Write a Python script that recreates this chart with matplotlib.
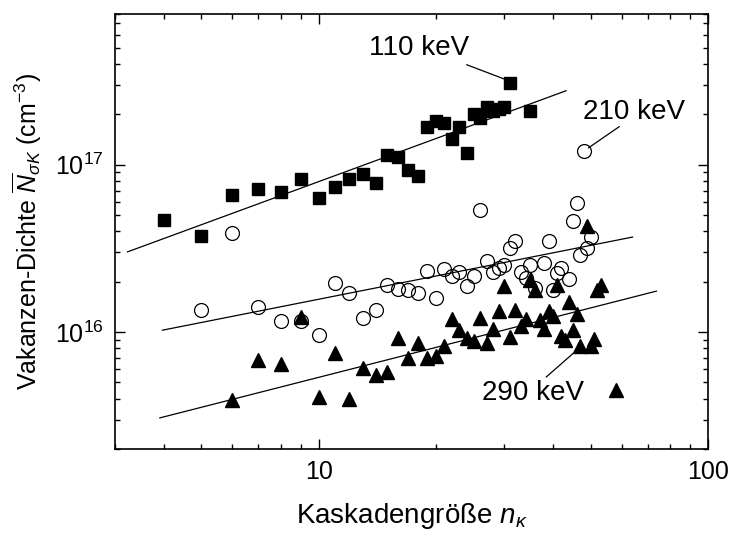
import matplotlib
matplotlib.use('Agg')
import matplotlib.pyplot as plt
import numpy as np

plt.rcParams.update({
    'font.family': 'Liberation Sans',
    'font.size': 17,
    'mathtext.fontset': 'custom',
    'mathtext.rm': 'Liberation Sans',
    'mathtext.it': 'Liberation Sans:italic',
    'mathtext.bf': 'Liberation Sans:bold',
    'xtick.direction': 'in', 'ytick.direction': 'in',
    'xtick.top': True, 'ytick.right': True,
    'xtick.major.size': 7, 'xtick.minor.size': 3.5,
    'ytick.major.size': 7, 'ytick.minor.size': 3.5,
    'xtick.major.width': 1.0, 'xtick.minor.width': 1.0,
    'ytick.major.width': 1.0, 'ytick.minor.width': 1.0,
    'axes.linewidth': 1.2,
})

# 110 keV
n_110 = [4, 5, 6, 7, 8, 9, 10, 11, 12, 13, 14, 15, 16, 17, 18, 19, 20, 21, 22,
         23, 24, 25, 26, 27, 28, 29, 30, 31, 35]
N_110 = [4.7e16, 3.77e16, 6.58e16, 7.19e16, 6.9e16, 8.2e16, 6.35e16, 7.38e16,
         8.2e16, 8.83e16, 7.8e16, 1.146e17, 1.108e17, 9.36e16, 8.54e16, 1.67e17,
         1.83e17, 1.77e17, 1.43e17, 1.69e17, 1.18e17, 2.01e17, 1.9e17, 2.22e17,
         2.1e17, 2.15e17, 2.22e17, 3.06e17, 2.08e17]

# 210 keV
n_210 = [5, 6, 7, 8, 9, 10, 11, 12, 13, 14, 15, 16, 17, 18, 19, 20, 21, 22, 23,
         24, 25, 26, 27, 28, 29, 30, 31, 32, 33, 34, 35, 36, 38, 39, 40, 41, 42,
         44, 45, 46, 47, 48, 49, 50]
N_210 = [1.35e16, 3.91e16, 1.41e16, 1.16e16, 1.16e16, 9.6e15, 1.96e16, 1.70e16,
         1.21e16, 1.36e16, 1.90e16, 1.80e16, 1.78e16, 1.72e16, 2.32e16, 1.59e16,
         2.37e16, 2.16e16, 2.27e16, 1.88e16, 2.16e16, 5.34e16, 2.66e16, 2.28e16,
         2.43e16, 2.51e16, 3.20e16, 3.49e16, 2.27e16, 2.09e16, 2.51e16, 1.84e16,
         2.59e16, 3.50e16, 1.79e16, 2.24e16, 2.40e16, 2.08e16, 4.61e16, 5.90e16,
         2.89e16, 1.20e17, 3.16e16, 3.70e16]

# 290 keV
n_290 = [6, 7, 8, 9, 10, 11, 12, 13, 14, 15, 16, 17, 18, 19, 20, 21, 22, 23, 24,
         25, 26, 27, 28, 29, 30, 31, 32, 33, 34, 35, 36, 37, 38, 39, 40, 41, 42,
         43, 44, 45, 46, 47, 49, 50, 51, 52, 53, 58]
N_290 = [3.9e15, 6.8e15, 6.4e15, 1.23e16, 4.07e15, 7.5e15, 3.98e15, 6.1e15,
         5.55e15, 5.76e15, 9.2e15, 7.04e15, 8.6e15, 6.98e15, 7.24e15, 8.2e15,
         1.19e16, 1.03e16, 9.2e15, 8.8e15, 1.22e16, 8.65e15, 1.04e16, 1.34e16,
         1.88e16, 9.3e15, 1.35e16, 1.09e16, 1.19e16, 2.06e16, 1.78e16, 1.18e16,
         1.04e16, 1.34e16, 1.24e16, 1.91e16, 9.5e15, 9.0e15, 1.52e16, 1.03e16,
         1.29e16, 8.2e15, 4.30e16, 8.2e15, 9.1e15, 1.78e16, 1.91e16, 4.5e15]

# power-law fits: N = N10 * (n/10)**p over [n_lo, n_hi]
fit_110 = dict(N10=7.92e16, p=0.855, n_lo=3.23, n_hi=43.2)
fit_210 = dict(N10=1.57e16, p=0.461, n_lo=3.97, n_hi=64.0)
fit_290 = dict(N10=5.36e15, p=0.594, n_lo=3.91, n_hi=73.7)

# labels: text, text position, leader start, leader end
lab_110 = ('110 keV', (18.1, 4.99e17), (24.0, 3.96e17), (30.0, 3.25e17))
lab_210 = ('210 keV', (64.4, 2.07e17), (59.2, 1.69e17), (49.3, 1.26e17))
lab_290 = ('290 keV', (35.6, 4.31e15), (38.4, 5.38e15), (45.6, 7.64e15))

fig = plt.figure(figsize=(7.3, 5.34), dpi=100)
ax = fig.add_axes([115 / 730, 85 / 534, 593 / 730, 435.4 / 534])
ax.set_xscale('log')
ax.set_yscale('log')

for f in (fit_110, fit_210, fit_290):
    n = np.geomspace(f['n_lo'], f['n_hi'], 50)
    ax.plot(n, f['N10'] * (n / 10) ** f['p'], color='black', lw=0.9, zorder=2)

ax.plot(n_110, N_110, 's', color='black', ms=9, zorder=3)
ax.plot(n_210, N_210, 'o', mfc='none', mec='black', mew=0.9, ms=10, zorder=3)
ax.plot(n_290, N_290, '^', color='black', ms=9.5, zorder=4)

for text, tpos, p0, p1 in (lab_110, lab_210, lab_290):
    ax.text(*tpos, text, ha='center', va='center', fontsize=20)
    ax.annotate('', xy=p1, xytext=p0,
                arrowprops=dict(arrowstyle='-', color='black', lw=0.9,
                                shrinkA=0, shrinkB=0))

ax.set_xlim(3, 100)
ax.set_ylim(2e15, 8e17)
ax.set_xticks([10, 100])
ax.set_xticklabels(['10', '100'])
ax.tick_params(axis='both', which='major', pad=8, labelsize=18)

ax.set_xlabel(r'Kaskadengröße $n_\kappa$', fontsize=20, labelpad=12)
ax.set_ylabel(r'Vakanzen-Dichte $\overline{N}_{\sigma K}$ (cm$^{-3}$)',
              fontsize=18, labelpad=8)

fig.savefig('out.png', dpi=100)
